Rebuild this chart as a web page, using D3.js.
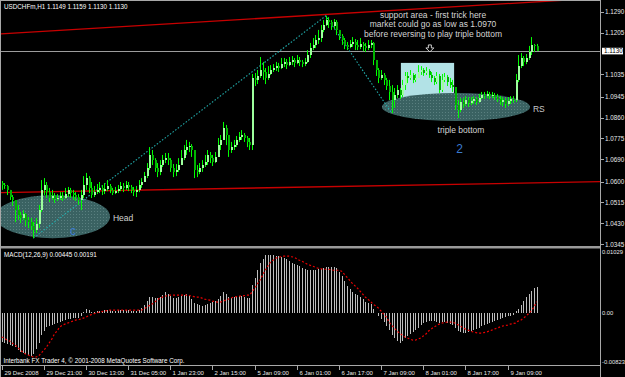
<!DOCTYPE html>
<html>
<head>
<meta charset="utf-8">
<script src="https://cdn.jsdelivr.net/npm/d3@7"></script>
<style>
  html, body { margin: 0; padding: 0; background: #000; }
  svg { display: block; }
  text { font-family: "Liberation Sans", Arial, sans-serif; }
</style>
</head>
<body>
<svg id="chart" width="625" height="377"></svg>
<script>
// USDCHFm H1, 29 Dec 2008 .. 9 Jan 2009 (one value per hourly bar)
var symbolTitle = 'USDCHFm,H1  1.1149 1.1159 1.1130 1.1130';
var macdTitle = 'MACD(12,26,9) 0.00445 0.00191';
var copyright = 'Interbank FX Trader 4, \u00a9 2001-2008 MetaQuotes Software Corp.';

var firstOpen = 1.0594;
var closes = [
  1.0586,1.0582,1.0566,1.0537,1.0525,1.0484,1.0464,1.0452,1.0468,1.0444,
  1.0435,1.0419,1.0403,1.0427,1.0484,1.0566,1.0586,1.0557,1.0533,1.0541,
  1.0529,1.0533,1.0541,1.0533,1.0549,1.0566,1.0553,1.0545,1.0537,1.0525,
  1.0545,1.0586,1.0614,1.0574,1.0545,1.0557,1.0566,1.0574,1.0561,1.0570,
  1.0582,1.0566,1.0553,1.0561,1.0570,1.0582,1.0574,1.0586,1.0578,1.0566,
  1.0557,1.0566,1.0586,1.0598,1.0622,1.0655,1.0708,1.0687,1.0655,1.0639,
  1.0667,1.0687,1.0695,1.0687,1.0655,1.0639,1.0647,1.0667,1.0695,1.0728,
  1.0740,1.0744,1.0728,1.0647,1.0639,1.0655,1.0667,1.0679,1.0708,1.0695,
  1.0679,1.0700,1.0748,1.0769,1.0817,1.0789,1.0728,1.0740,1.0748,1.0769,
  1.0781,1.0789,1.0777,1.0761,1.0748,1.1021,1.1013,1.1029,1.1053,1.1045,
  1.1021,1.1037,1.1053,1.1061,1.1069,1.1061,1.1077,1.1086,1.1073,1.1086,
  1.1094,1.1082,1.1094,1.1086,1.1077,1.1086,1.1114,1.1142,1.1155,1.1175,
  1.1183,1.1216,1.1236,1.1256,1.1248,1.1232,1.1248,1.1216,1.1191,1.1175,
  1.1155,1.1147,1.1159,1.1167,1.1155,1.1147,1.1159,1.1151,1.1142,1.1155,
  1.1163,1.1094,1.1053,1.1021,1.1033,1.1013,1.0988,1.0964,1.0931,1.0952,
  1.0972,1.0952,1.0992,1.1029,1.1021,1.1033,1.1013,1.1021,1.1045,1.1053,
  1.1041,1.1049,1.1033,1.1021,1.1004,1.1029,1.0972,1.1013,1.1025,1.1004,
  1.0992,1.0984,1.0911,1.0891,1.0923,1.0915,1.0931,1.0919,1.0927,1.0935,
  1.0923,1.0939,1.0952,1.0947,1.0956,1.0947,1.0952,1.0943,1.0935,1.0923,
  1.0931,1.0915,1.0927,1.0935,1.0931,1.1013,1.1069,1.1102,1.1086,1.1102,
  1.1126,1.1155,1.1149,1.1130
];
var highs = [
  1.0602,1.0594,1.0586,1.0566,1.0545,1.0525,1.0505,1.0476,1.0484,1.0472,
  1.0456,1.0452,1.0435,1.0452,1.0505,1.0606,1.0614,1.0598,1.0574,1.0566,
  1.0553,1.0549,1.0557,1.0557,1.0574,1.0578,1.0574,1.0566,1.0557,1.0549,
  1.0566,1.0622,1.0635,1.0622,1.0598,1.0582,1.0590,1.0598,1.0586,1.0594,
  1.0606,1.0590,1.0574,1.0578,1.0586,1.0598,1.0594,1.0602,1.0598,1.0586,
  1.0578,1.0582,1.0606,1.0614,1.0639,1.0675,1.0740,1.0728,1.0695,1.0675,
  1.0687,1.0708,1.0716,1.0716,1.0695,1.0671,1.0671,1.0695,1.0728,1.0748,
  1.0769,1.0761,1.0752,1.0728,1.0667,1.0675,1.0687,1.0708,1.0728,1.0720,
  1.0708,1.0720,1.0777,1.0789,1.0842,1.0830,1.0777,1.0761,1.0769,1.0785,
  1.0801,1.0809,1.0797,1.0785,1.0777,1.1037,1.1041,1.1053,1.1106,1.1086,
  1.1061,1.1069,1.1073,1.1077,1.1086,1.1082,1.1102,1.1102,1.1098,1.1106,
  1.1110,1.1102,1.1114,1.1106,1.1094,1.1102,1.1134,1.1163,1.1183,1.1195,
  1.1216,1.1236,1.1256,1.1273,1.1268,1.1256,1.1260,1.1256,1.1216,1.1199,
  1.1183,1.1167,1.1175,1.1187,1.1179,1.1175,1.1183,1.1167,1.1163,1.1175,
  1.1175,1.1167,1.1086,1.1061,1.1053,1.1041,1.1021,1.1013,1.0992,1.0980,
  1.0992,1.0980,1.1013,1.1045,1.1045,1.1053,1.1041,1.1037,1.1073,1.1069,
  1.1061,1.1065,1.1057,1.1045,1.1029,1.1045,1.1037,1.1037,1.1041,1.1033,
  1.1021,1.1013,1.0980,1.0931,1.0939,1.0939,1.0947,1.0943,1.0943,1.0947,
  1.0943,1.0956,1.0964,1.0964,1.0968,1.0964,1.0964,1.0960,1.0956,1.0947,
  1.0943,1.0939,1.0943,1.0947,1.0947,1.1037,1.1114,1.1122,1.1110,1.1118,
  1.1151,1.1187,1.1159,1.1159
];
var lows = [
  1.0566,1.0570,1.0545,1.0525,1.0501,1.0435,1.0444,1.0431,1.0444,1.0419,
  1.0411,1.0403,1.0370,1.0391,1.0411,1.0476,1.0545,1.0533,1.0517,1.0525,
  1.0513,1.0521,1.0525,1.0521,1.0529,1.0537,1.0533,1.0525,1.0521,1.0505,
  1.0484,1.0533,1.0566,1.0553,1.0533,1.0537,1.0549,1.0553,1.0545,1.0549,
  1.0561,1.0553,1.0545,1.0549,1.0553,1.0561,1.0557,1.0566,1.0561,1.0553,
  1.0541,1.0537,1.0557,1.0574,1.0598,1.0614,1.0647,1.0667,1.0639,1.0618,
  1.0626,1.0659,1.0675,1.0667,1.0639,1.0618,1.0622,1.0639,1.0667,1.0687,
  1.0708,1.0720,1.0700,1.0614,1.0618,1.0630,1.0639,1.0659,1.0667,1.0675,
  1.0663,1.0675,1.0708,1.0728,1.0769,1.0748,1.0700,1.0716,1.0728,1.0740,
  1.0761,1.0769,1.0761,1.0740,1.0728,1.0728,1.0988,1.0996,1.1021,1.1013,
  1.0996,1.1013,1.1033,1.1045,1.1049,1.1045,1.1057,1.1065,1.1057,1.1069,
  1.1073,1.1065,1.1077,1.1069,1.1065,1.1069,1.1082,1.1102,1.1134,1.1142,
  1.1159,1.1167,1.1207,1.1232,1.1224,1.1216,1.1220,1.1195,1.1175,1.1155,
  1.1138,1.1134,1.1142,1.1147,1.1134,1.1134,1.1138,1.1130,1.1126,1.1134,
  1.1142,1.1073,1.1029,1.1000,1.1013,1.0992,1.0972,1.0931,1.0878,1.0899,
  1.0939,1.0935,1.0943,1.0972,1.1000,1.1013,1.1000,1.1004,1.1021,1.1033,
  1.1029,1.1033,1.1021,1.1004,1.0992,1.0996,1.0960,1.0964,1.1004,1.0988,
  1.0980,1.0964,1.0891,1.0858,1.0882,1.0899,1.0907,1.0903,1.0911,1.0915,
  1.0911,1.0919,1.0935,1.0935,1.0939,1.0935,1.0939,1.0931,1.0923,1.0911,
  1.0907,1.0899,1.0907,1.0915,1.0919,1.0923,1.1004,1.1061,1.1069,1.1077,
  1.1094,1.1114,1.1126,1.1130
];

// MACD(12,26,9): histogram (main) and signal, per bar
var macdMain = [
  -0.00487,-0.00504,-0.00521,-0.00538,-0.00554,-0.00571,-0.00622,-0.00655,-0.00672,-0.00689,
  -0.00706,-0.00722,-0.00689,-0.00605,-0.00504,-0.00370,-0.00302,-0.00235,-0.00218,-0.00202,
  -0.00185,-0.00168,-0.00151,-0.00134,-0.00118,-0.00101,-0.00101,-0.00084,-0.00084,-0.00084,
  -0.00050,0.00017,0.00067,0.00050,0.00017,0.00017,0.00034,0.00034,0.00034,0.00050,
  0.00050,0.00050,0.00034,0.00034,0.00050,0.00050,0.00050,0.00050,0.00050,0.00034,
  0.00034,0.00034,0.00050,0.00084,0.00134,0.00202,0.00269,0.00269,0.00252,0.00252,
  0.00269,0.00302,0.00353,0.00319,0.00286,0.00252,0.00252,0.00269,0.00286,0.00302,
  0.00319,0.00286,0.00235,0.00168,0.00151,0.00134,0.00118,0.00134,0.00151,0.00168,
  0.00185,0.00202,0.00235,0.00286,0.00353,0.00319,0.00269,0.00252,0.00269,0.00269,
  0.00286,0.00286,0.00269,0.00252,0.00252,0.00470,0.00588,0.00722,0.00840,0.00907,
  0.00974,0.00974,0.00974,0.00974,0.00958,0.00958,0.00941,0.00924,0.00907,0.00874,
  0.00840,0.00823,0.00806,0.00790,0.00756,0.00739,0.00722,0.00722,0.00722,0.00722,
  0.00739,0.00739,0.00756,0.00773,0.00773,0.00773,0.00773,0.00756,0.00689,0.00622,
  0.00538,0.00454,0.00403,0.00353,0.00319,0.00302,0.00269,0.00235,0.00185,0.00168,
  0.00151,0.00067,0.00000,-0.00050,-0.00101,-0.00151,-0.00218,-0.00286,-0.00370,-0.00420,
  -0.00470,-0.00504,-0.00470,-0.00420,-0.00386,-0.00353,-0.00319,-0.00286,-0.00252,-0.00202,
  -0.00168,-0.00151,-0.00134,-0.00134,-0.00134,-0.00151,-0.00168,-0.00151,-0.00151,-0.00168,
  -0.00185,-0.00202,-0.00252,-0.00302,-0.00319,-0.00336,-0.00336,-0.00319,-0.00302,-0.00286,
  -0.00269,-0.00252,-0.00218,-0.00202,-0.00185,-0.00168,-0.00151,-0.00134,-0.00118,-0.00101,
  -0.00084,-0.00067,-0.00050,-0.00050,-0.00034,0.00034,0.00067,0.00134,0.00202,0.00269,
  0.00319,0.00370,0.00420,0.00445
];
var macdSignal = [
  -0.00403,-0.00420,-0.00454,-0.00470,-0.00504,-0.00538,-0.00571,-0.00622,-0.00655,-0.00689,
  -0.00706,-0.00722,-0.00739,-0.00739,-0.00722,-0.00672,-0.00622,-0.00571,-0.00504,-0.00437,
  -0.00353,-0.00302,-0.00235,-0.00202,-0.00185,-0.00168,-0.00151,-0.00134,-0.00118,-0.00109,
  -0.00101,-0.00084,-0.00067,-0.00042,-0.00025,-0.00008,0.00000,0.00017,0.00025,0.00034,
  0.00042,0.00050,0.00050,0.00050,0.00050,0.00050,0.00050,0.00050,0.00050,0.00050,
  0.00050,0.00050,0.00050,0.00050,0.00067,0.00101,0.00126,0.00151,0.00185,0.00218,
  0.00252,0.00269,0.00286,0.00294,0.00302,0.00302,0.00302,0.00302,0.00302,0.00302,
  0.00302,0.00302,0.00286,0.00277,0.00269,0.00269,0.00252,0.00235,0.00227,0.00218,
  0.00202,0.00193,0.00185,0.00185,0.00202,0.00218,0.00235,0.00252,0.00269,0.00277,
  0.00286,0.00286,0.00294,0.00302,0.00302,0.00353,0.00420,0.00487,0.00554,0.00638,
  0.00722,0.00790,0.00857,0.00890,0.00924,0.00941,0.00949,0.00958,0.00958,0.00958,
  0.00949,0.00941,0.00916,0.00890,0.00874,0.00848,0.00823,0.00806,0.00790,0.00773,
  0.00756,0.00748,0.00739,0.00739,0.00739,0.00731,0.00722,0.00722,0.00722,0.00706,
  0.00655,0.00605,0.00554,0.00504,0.00462,0.00420,0.00370,0.00319,0.00269,0.00235,
  0.00193,0.00151,0.00118,0.00084,0.00034,-0.00017,-0.00067,-0.00151,-0.00202,-0.00252,
  -0.00302,-0.00336,-0.00370,-0.00403,-0.00420,-0.00437,-0.00454,-0.00454,-0.00437,-0.00420,
  -0.00386,-0.00353,-0.00302,-0.00269,-0.00235,-0.00210,-0.00185,-0.00168,-0.00160,-0.00151,
  -0.00151,-0.00151,-0.00168,-0.00193,-0.00218,-0.00244,-0.00269,-0.00286,-0.00302,-0.00319,
  -0.00328,-0.00336,-0.00336,-0.00328,-0.00319,-0.00302,-0.00286,-0.00269,-0.00252,-0.00235,
  -0.00218,-0.00210,-0.00202,-0.00185,-0.00176,-0.00168,-0.00134,-0.00118,-0.00084,-0.00050,
  -0.00008,0.00042,0.00101,0.00191
];

// axes
var timeTicks = [
  [0, '29 Dec 2008'], [16, '29 Dec 21:00'], [32, '30 Dec 13:00'], [48, '31 Dec 05:00'],
  [64, '1 Jan 23:00'], [80, '2 Jan 15:00'], [96, '5 Jan 09:00'], [112, '6 Jan 01:00'],
  [128, '6 Jan 17:00'], [144, '7 Jan 09:00'], [160, '8 Jan 01:00'], [176, '8 Jan 17:00'],
  [192, '9 Jan 09:00']
];
var priceTicks = [1.1290, 1.1205, 1.1035, 1.0945, 1.0860, 1.0775, 1.0690, 1.0600, 1.0515, 1.0430, 1.0345];
var lastPrice = 1.1130;
var macdTicks = [0.01029, 0, -0.00823];
var macdTickLabels = ['0.01029', '0.00', '-0.00823'];

// drawn objects: [bar index, price]
var upperTrend = [[0, 1.1200], [200, 1.1328]];
var lowerTrend = [[0, 1.0555], [200, 1.0594]];
var zigzag = [[12, 1.0370], [123, 1.1273], [148, 1.0878]];
var headZone = {i0: -2.5, i1: 41.1, p0: 1.0370, p1: 1.0545};
var bottomZone = {i0: 144.3, i1: 200.5, p0: 1.0846, p1: 1.0960};
var supportBox = {i0: 151.5, i1: 171.7, p0: 1.0939, p1: 1.1082};
var notes = [
  {i: 163.7, p: 1.1263, text: 'support area - first trick here', size: 8.5, color: '#d4d4d4', anchor: 'middle'},
  {i: 163.7, p: 1.1226, text: 'market could go as low as 1.0970', size: 8.5, color: '#d4d4d4', anchor: 'middle'},
  {i: 163.7, p: 1.1187, text: 'before reversing to play triple bottom', size: 8.5, color: '#d4d4d4', anchor: 'middle'},
  {i: 174.3, p: 1.0796, text: 'triple bottom', size: 8.5, color: '#d4d4d4', anchor: 'middle'},
  {i: 201.6, p: 1.0882, text: 'RS', size: 8.5, color: '#c8c8c8', anchor: 'start'},
  {i: 42.2, p: 1.0440, text: 'Head', size: 8.5, color: '#d4d4d4', anchor: 'start'},
  {i: 27.1, p: 1.0383, text: 'c', size: 12, color: '#3a7ad0', anchor: 'middle'},
  {i: 173.8, p: 1.0714, text: '2', size: 12, color: '#3a7ad0', anchor: 'middle'}
];
var arrowMark = {i: 162.5, p: 1.1155};

var bars = closes.map(function(c, i) {
  var o = i ? closes[i - 1] : firstOpen;
  return {i: i, o: o, c: c, h: Math.max(highs[i], o, c), l: Math.min(lows[i], o, c)};
});

var x = d3.scaleLinear().domain([0, 192]).range([1.7, 507.6]);
var y = d3.scaleLinear().domain([1.0345, 1.1290]).range([244.3, 11.7]);
var ym = d3.scaleLinear().domain([-0.00823, 0.01029]).range([362, 252]);

var svg = d3.select('#chart');
svg.append('rect').attr('width', 625).attr('height', 377).attr('fill', '#000');

var defs = svg.append('defs');
var dots = defs.append('pattern')
  .attr('id', 'zoneDots')
  .attr('width', 3)
  .attr('height', 3)
  .attr('patternUnits', 'userSpaceOnUse');
dots.append('rect').attr('width', 3).attr('height', 3).attr('fill', '#3a6262');
dots.append('rect').attr('x', 1).attr('y', 1).attr('width', 1).attr('height', 1).attr('fill', '#5a8080');
defs.append('clipPath').attr('id', 'clipMain')
  .append('rect').attr('x', 1).attr('y', 1).attr('width', 599).attr('height', 245);
defs.append('clipPath').attr('id', 'clipMacd')
  .append('rect').attr('x', 1).attr('y', 249).attr('width', 599).attr('height', 116);

var main = svg.append('g').attr('clip-path', 'url(#clipMain)');

// zones behind the candles
main.append('rect')
  .attr('x', x(supportBox.i0))
  .attr('y', y(supportBox.p1))
  .attr('width', x(supportBox.i1) - x(supportBox.i0))
  .attr('height', y(supportBox.p0) - y(supportBox.p1))
  .attr('fill', '#b2e2e6');
[headZone, bottomZone].forEach(function(z) {
  main.append('ellipse')
    .attr('cx', (x(z.i0) + x(z.i1)) / 2)
    .attr('cy', (y(z.p0) + y(z.p1)) / 2)
    .attr('rx', (x(z.i1) - x(z.i0)) / 2)
    .attr('ry', (y(z.p0) - y(z.p1)) / 2)
    .attr('fill', 'url(#zoneDots)');
});

// bid line
main.append('line')
  .attr('x1', 0).attr('x2', 600)
  .attr('y1', Math.round(y(lastPrice)) + 0.5).attr('y2', Math.round(y(lastPrice)) + 0.5)
  .attr('stroke', '#9c9c9c');

// trend lines, extended as rays
function ray(pts) {
  var k = (pts[1][1] - pts[0][1]) / (pts[1][0] - pts[0][0]);
  return [[-2, pts[0][1] + k * (-2 - pts[0][0])], [232, pts[0][1] + k * (232 - pts[0][0])]];
}
var line = d3.line().x(function(d) { return x(d[0]); }).y(function(d) { return y(d[1]); });
[upperTrend, lowerTrend].forEach(function(t) {
  main.append('path').attr('d', line(ray(t)))
    .attr('fill', 'none').attr('stroke', '#c80000').attr('stroke-width', 1.3);
});
main.append('path').attr('d', line(zigzag))
  .attr('fill', 'none').attr('stroke', '#22b0b0').attr('stroke-width', 1.1)
  .attr('stroke-dasharray', '1.5,1.8');

// candles
var candle = main.append('g').selectAll('g').data(bars).enter().append('g');
candle.append('line')
  .attr('x1', function(d) { return Math.round(x(d.i)) + 0.5; })
  .attr('x2', function(d) { return Math.round(x(d.i)) + 0.5; })
  .attr('y1', function(d) { return y(d.h); })
  .attr('y2', function(d) { return y(d.l); })
  .attr('stroke', '#00ff00');
candle.append('rect')
  .attr('x', function(d) { return Math.round(x(d.i)); })
  .attr('width', 2)
  .attr('y', function(d) { return y(Math.max(d.o, d.c)); })
  .attr('height', function(d) { return Math.max(1, Math.abs(y(d.o) - y(d.c))); })
  .attr('fill', function(d) { return d.c >= d.o ? '#9dff9d' : '#00b400'; })
  .attr('shape-rendering', 'crispEdges');

// annotations
notes.forEach(function(n) {
  main.append('text')
    .attr('x', x(n.i)).attr('y', y(n.p))
    .attr('text-anchor', n.anchor)
    .attr('font-size', n.size)
    .attr('fill', n.color)
    .text(n.text);
});
var ax = x(arrowMark.i), ay = y(arrowMark.p);
main.append('path')
  .attr('d', 'M' + (ax - 1.5) + ',' + ay + 'h3v3h2.5l-4,4l-4,-4h2.5z')
  .attr('fill', 'none').attr('stroke', '#e0e0e0').attr('stroke-width', 0.9);

// MACD panel
var macd = svg.append('g').attr('clip-path', 'url(#clipMacd)');
macd.selectAll('rect').data(macdMain).enter().append('rect')
  .attr('x', function(d, i) { return Math.round(x(i)); })
  .attr('width', 1)
  .attr('y', function(d) { return Math.min(ym(d), ym(0)); })
  .attr('height', function(d) { return Math.abs(ym(d) - ym(0)); })
  .attr('fill', '#bdbdbd')
  .attr('shape-rendering', 'crispEdges');
macd.append('path')
  .attr('d', d3.line().x(function(d, i) { return x(i); }).y(function(d) { return ym(d); })(macdSignal))
  .attr('fill', 'none').attr('stroke', '#e80000').attr('stroke-width', 1.2)
  .attr('stroke-dasharray', '2,2');

// frame
var frame = '#a8a8a8';
svg.append('rect').attr('x', 0).attr('y', 246).attr('width', 601).attr('height', 2.5).attr('fill', '#9a9a9a');
svg.append('line').attr('x1', 0.5).attr('x2', 0.5).attr('y1', 0).attr('y2', 377).attr('stroke', frame);
svg.append('line').attr('x1', 0).attr('x2', 601).attr('y1', 0.5).attr('y2', 0.5).attr('stroke', frame);
svg.append('line').attr('x1', 600.5).attr('x2', 600.5).attr('y1', 0).attr('y2', 377).attr('stroke', frame);
svg.append('line').attr('x1', 0).attr('x2', 601).attr('y1', 365.5).attr('y2', 365.5).attr('stroke', frame);

// price axis
var fmt4 = d3.format('.4f');
var axisText = '#e8e8e8';
priceTicks.forEach(function(v) {
  svg.append('line').attr('x1', 601).attr('x2', 604)
    .attr('y1', Math.round(y(v)) + 0.5).attr('y2', Math.round(y(v)) + 0.5).attr('stroke', frame);
  svg.append('text').attr('x', 605).attr('y', y(v) + 2.3)
    .attr('font-size', 6.3).attr('fill', axisText).text(fmt4(v));
});
svg.append('rect').attr('x', 602).attr('y', y(lastPrice) - 3.3).attr('width', 21).attr('height', 6.6).attr('fill', '#fff');
svg.append('text').attr('x', 604).attr('y', y(lastPrice) + 2.3)
  .attr('font-size', 6.3).attr('fill', '#000').text(fmt4(lastPrice));

// MACD axis
macdTicks.forEach(function(v, k) {
  svg.append('text').attr('x', 602).attr('y', ym(v) + 2.2)
    .attr('font-size', 5.8).attr('fill', axisText).text(macdTickLabels[k]);
});

// time axis
timeTicks.forEach(function(t) {
  var tx = Math.round(x(t[0])) + 0.5;
  svg.append('line').attr('x1', tx).attr('x2', tx).attr('y1', 366).attr('y2', 370).attr('stroke', frame);
  svg.append('text').attr('x', tx + 2).attr('y', 374.5)
    .attr('font-size', 6).attr('fill', axisText).text(t[1]);
});

// titles
svg.append('text').attr('x', 4).attr('y', 9).attr('font-size', 6.3).attr('fill', '#fff').text(symbolTitle);
svg.append('text').attr('x', 4).attr('y', 256.5).attr('font-size', 6.3).attr('fill', '#fff').text(macdTitle);
svg.append('text').attr('x', 3.5).attr('y', 363).attr('font-size', 6.3).attr('fill', '#fff').text(copyright);
</script>
</body>
</html>
